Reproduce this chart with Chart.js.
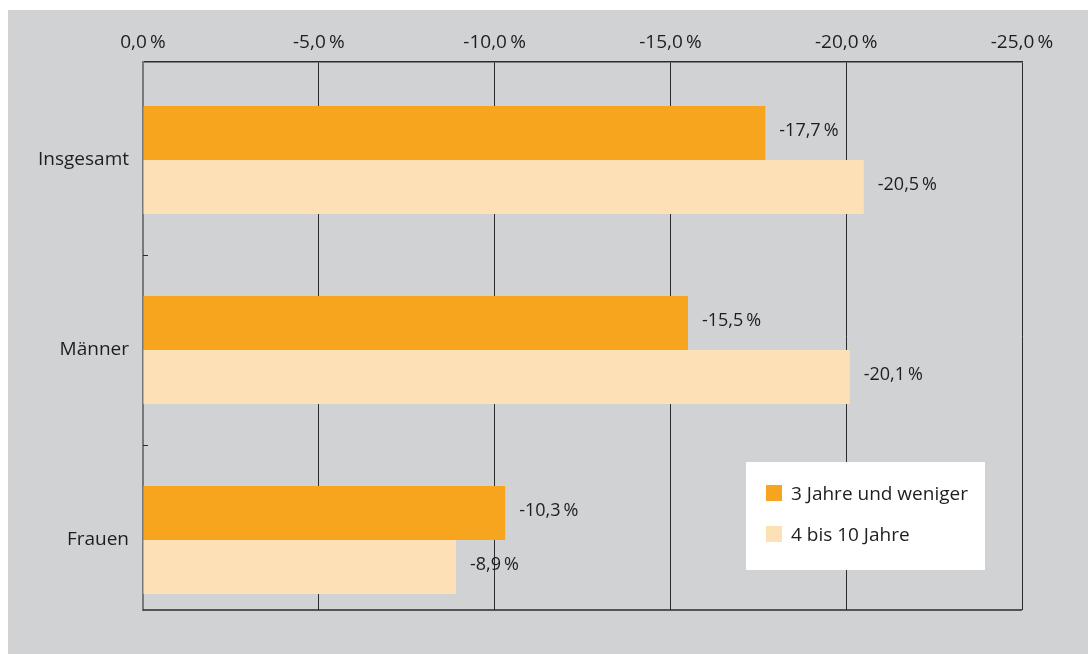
<!DOCTYPE html>
<html>
<head>
<meta charset="utf-8">
<script src="https://cdn.jsdelivr.net/npm/chart.js@4"></script>
<style>
    body { margin: 0; background: #fff; }
    #panel { position: absolute; left: 8px; top: 10px; width: 1080px; height: 644px; background: #d1d2d4; }
</style>
</head>
<body>
<div id="panel"><canvas id="chart" width="1080" height="644"></canvas></div>
<script>
// values
const categories = ['Insgesamt', 'Männer', 'Frauen'];
const seriesNames = ['3 Jahre und weniger', '4 bis 10 Jahre'];
const shortTerm = [-17.7, -15.5, -10.3];
const longerTerm = [-20.5, -20.1, -8.9];
const colors = ['#f7a51e', '#fde0b6'];
const FONT = '"Open Sans", sans-serif';

function pct(v) {
    return (v < 0 ? '-' : '') + Math.abs(v).toFixed(1).replace('.', ',') + '\u2009%';
}

const extras = {
    id: 'extras',
    afterDatasetsDraw(chart) {
        const ctx = chart.ctx;
        const area = chart.chartArea;
        const y = chart.scales.y;
        ctx.save();
        // bottom frame line
        ctx.strokeStyle = '#2b2b2e';
        ctx.lineWidth = 1.5;
        ctx.beginPath();
        ctx.moveTo(area.left, area.bottom);
        ctx.lineTo(area.right, area.bottom);
        ctx.stroke();
        // small ticks between categories
        ctx.lineWidth = 1;
        for (let i = 0; i < categories.length - 1; i++) {
            const py = Math.round(y.getPixelForValue(i + 0.5)) + 0.5;
            ctx.beginPath();
            ctx.moveTo(area.left, py);
            ctx.lineTo(area.left + 5, py);
            ctx.stroke();
        }
        // value labels
        ctx.fillStyle = '#1e1e22';
        ctx.font = '18px ' + FONT;
        ctx.textBaseline = 'middle';
        chart.data.datasets.forEach((ds, di) => {
            chart.getDatasetMeta(di).data.forEach((bar, i) => {
                ctx.fillText(pct(ds.data[i].x), bar.x + 14, bar.y - 2);
            });
        });
        // legend box
        const lx = area.left + 603, ly = area.top + 400;
        ctx.fillStyle = '#fff';
        ctx.fillRect(lx, ly, 239, 108);
        chart.data.datasets.forEach((ds, di) => {
            const ry = ly + 23 + di * 41;
            ctx.fillStyle = ds.backgroundColor;
            ctx.fillRect(lx + 20, ry, 16, 16);
            ctx.fillStyle = '#1e1e22';
            ctx.font = '19px ' + FONT;
            ctx.fillText(ds.label, lx + 45, ry + 10);
        });
        ctx.restore();
    }
};

new Chart(document.getElementById('chart'), {
    type: 'bar',
    data: {
        datasets: [{
            label: seriesNames[0],
            data: shortTerm.map((v, i) => ({x: v, y: i})),
            backgroundColor: colors[0]
        }, {
            label: seriesNames[1],
            data: longerTerm.map((v, i) => ({x: v, y: i})),
            backgroundColor: colors[1]
        }]
    },
    options: {
        indexAxis: 'y',
        responsive: false,
        animation: false,
        categoryPercentage: 108 / 190,
        barPercentage: 1,
        layout: { padding: { left: 0, right: 66, top: 0, bottom: 44 } },
        plugins: { legend: { display: false }, tooltip: { enabled: false } },
        scales: {
            x: {
                position: 'top',
                min: -25,
                max: 0,
                reverse: true,
                afterFit: s => { s.height = 52; },
                ticks: {
                    stepSize: 5,
                    padding: 8,
                    color: '#1e1e22',
                    font: { family: FONT, size: 19 },
                    callback: v => pct(v)
                },
                grid: { color: '#2b2b2e', lineWidth: 1, drawTicks: false },
                border: { color: '#2b2b2e', width: 1.5 }
            },
            y: {
                type: 'linear',
                offset: false,
                reverse: true,
                min: -0.516,
                max: 2.368,
                afterFit: s => { s.width = 135; },
                afterBuildTicks: s => { s.ticks = categories.map((c, i) => ({value: i})); },
                ticks: {
                    padding: 14,
                    color: '#1e1e22',
                    font: { family: FONT, size: 19 },
                    callback: v => categories[v]
                },
                grid: { drawOnChartArea: false, drawTicks: false },
                border: { color: '#77787b', width: 2 }
            }
        }
    },
    plugins: [extras]
});
</script>
</body>
</html>
